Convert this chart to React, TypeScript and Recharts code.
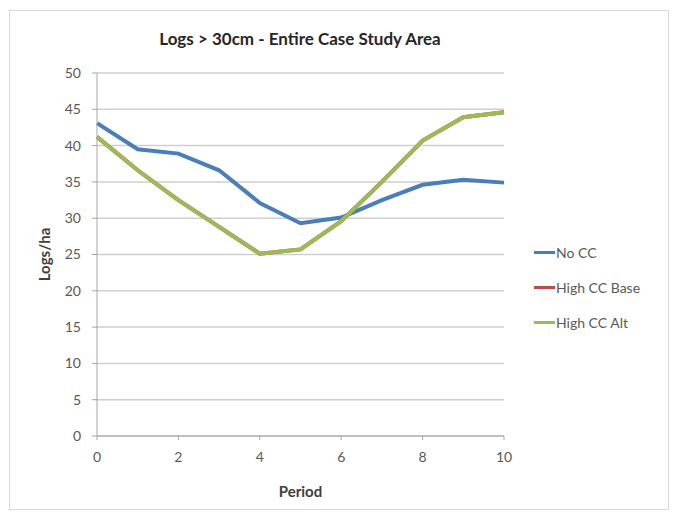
import React from 'react';
import { LineChart, Line, XAxis, YAxis, CartesianGrid } from 'recharts';

const periods = [0, 1, 2, 3, 4, 5, 6, 7, 8, 9, 10];
const noCC = [43.1, 39.5, 38.9, 36.6, 32.1, 29.3, 30.1, 32.5, 34.6, 35.3, 34.9];
const highCCBase = [41.2, 36.6, 32.5, 28.8, 25.1, 25.7, 29.6, 35.0, 40.7, 43.9, 44.6];
const highCCAlt = [41.2, 36.6, 32.5, 28.8, 25.1, 25.7, 29.6, 35.0, 40.7, 43.9, 44.6];
const xTicks = [0, 2, 4, 6, 8, 10];
const yTicks = [0, 5, 10, 15, 20, 25, 30, 35, 40, 45, 50];

const seriesNames = ['No CC', 'High CC Base', 'High CC Alt'];
const seriesColors = ['#4A7EBB', '#BE4B48', '#9BBB59'];

const data = periods.map((p, i) => ({
  period: p,
  noCC: noCC[i],
  base: highCCBase[i],
  alt: highCCAlt[i],
}));

const FONT = 'Lato, "Open Sans", sans-serif';

export default function App() {
  return (
    <div style={{ position: 'absolute', left: 0, top: 0, width: 674, height: 514, background: '#fff', fontFamily: FONT }}>
      <div style={{ position: 'absolute', left: 9, top: 10, width: 660, height: 500, border: '1px solid #d9d9d9', boxSizing: 'border-box' }} />
      <div style={{ position: 'absolute', left: 0, top: 28, width: 600, textAlign: 'center', fontSize: 17, fontWeight: 'bold', color: '#262626' }}>
        Logs &gt; 30cm - Entire Case Study Area
      </div>
      <div style={{ position: 'absolute', left: 0, top: 0 }}>
        <LineChart width={674} height={514} data={data} margin={{ top: 73, right: 170, bottom: 48, left: 0 }}>
          <CartesianGrid vertical={false} stroke="#cfcfcf" strokeWidth={1.5} />
          <XAxis
            dataKey="period"
            type="number"
            domain={[0, 10]}
            ticks={xTicks}
            height={30}
            stroke="#a6a6a6"
            tickSize={4}
            tickMargin={12}
            tick={{ fill: '#595959', fontSize: 14, fontFamily: FONT }}
            label={{ value: 'Period', position: 'bottom', offset: 20, fill: '#404040', fontSize: 15, fontWeight: 'bold', fontFamily: FONT }}
          />
          <YAxis
            domain={[0, 50]}
            ticks={yTicks}
            width={97}
            stroke="#a6a6a6"
            tickSize={5}
            tickMargin={11}
            tick={{ fill: '#595959', fontSize: 14, fontFamily: FONT }}
            label={{ value: 'Logs/ha', angle: -90, position: 'center', dx: -4, fill: '#404040', fontSize: 15, fontWeight: 'bold', fontFamily: FONT }}
          />
          <Line dataKey="noCC" name={seriesNames[0]} stroke={seriesColors[0]} strokeWidth={4} dot={false} isAnimationActive={false} />
          <Line dataKey="base" name={seriesNames[1]} stroke={seriesColors[1]} strokeWidth={4} dot={false} isAnimationActive={false} />
          <Line dataKey="alt" name={seriesNames[2]} stroke={seriesColors[2]} strokeWidth={4} dot={false} isAnimationActive={false} />
        </LineChart>
      </div>
      {seriesNames.map((n, i) => (
        <div key={n} style={{ position: 'absolute', left: 534, top: 244 + i * 35, display: 'flex', alignItems: 'center', fontSize: 14, color: '#595959' }}>
          <div style={{ width: 21, height: 3, background: seriesColors[i], marginRight: 1 }} />
          <span>{n}</span>
        </div>
      ))}
    </div>
  );
}
